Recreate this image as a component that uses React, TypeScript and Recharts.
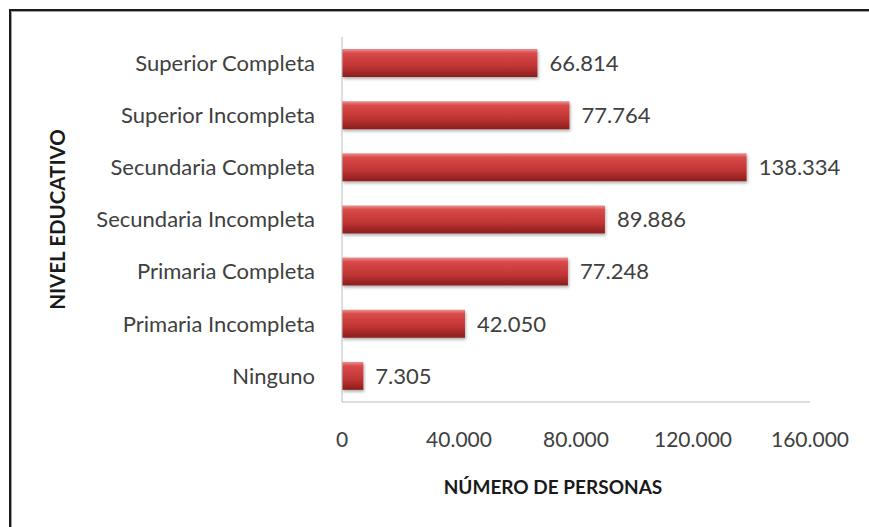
import React from "react";
import {
  BarChart,
  Bar,
  XAxis,
  YAxis,
  LabelList,
  Label,
} from "recharts";

const categories = [
  "Superior Completa",
  "Superior Incompleta",
  "Secundaria Completa",
  "Secundaria Incompleta",
  "Primaria Completa",
  "Primaria Incompleta",
  "Ninguno",
];
const personas = [66814, 77764, 138334, 89886, 77248, 42050, 7305];
const xTicks = [0, 40000, 80000, 120000, 160000];

const fmt = (v: number) => String(v).replace(/\B(?=(\d{3})+(?!\d))/g, ".");

const FONT = "Lato, 'Open Sans', sans-serif";
const TEXT = "#404040";

export default function App() {
  const data = categories.map((name, i) => ({ name, value: personas[i] }));

  return (
    <div
      style={{
        position: "absolute",
        left: 0,
        top: 0,
        width: 869,
        height: 527,
        background: "#fff",
        overflow: "hidden",
        fontFamily: FONT,
      }}
    >
      {/* frame: only top and left edges are visible in the source */}
      <div style={{ position: "absolute", left: 9, top: 9, width: 860, height: 2, background: "#1a1a1a" }} />
      <div style={{ position: "absolute", left: 9, top: 9, width: 2, height: 518, background: "#1a1a1a" }} />
      <div style={{ position: "absolute", left: 11, top: 11, width: 858, height: 1, background: "#a0a0a0" }} />
      <div style={{ position: "absolute", left: 11, top: 11, width: 1, height: 516, background: "#a0a0a0" }} />
      <div style={{ position: "absolute", left: 0, top: 0 }}>
        <BarChart
          width={869}
          height={527}
          data={data}
          layout="vertical"
          margin={{ top: 37, right: 59, bottom: 0, left: 0 }}
        >
          <defs>
            <linearGradient id="barRed" x1="0" y1="0" x2="0" y2="1">
              <stop offset="0%" stopColor="#ec9090" />
              <stop offset="15%" stopColor="#d94a4a" />
              <stop offset="60%" stopColor="#c23535" />
              <stop offset="100%" stopColor="#8a1e1e" />
            </linearGradient>
            <filter id="barShadow" x="-5%" y="-20%" width="115%" height="160%">
              <feDropShadow dx="1" dy="2" stdDeviation="1.5" floodColor="#000" floodOpacity="0.3" />
            </filter>
          </defs>
          <XAxis
            type="number"
            domain={[0, 160000]}
            ticks={xTicks}
            tickFormatter={fmt}
            axisLine={{ stroke: "#bdbdbd" }}
            tickLine={false}
            tickSize={0}
            tickMargin={30}
            height={125}
            tick={{ fontSize: 21, fill: TEXT, fontFamily: FONT }}
          >
            <Label
              value="NÚMERO DE PERSONAS"
              position="insideBottom"
              offset={33}
              dx={-23}
              style={{ fontSize: 19, fontWeight: 700, fill: "#1a1a1a", fontFamily: FONT }}
            />
          </XAxis>
          <YAxis
            type="category"
            dataKey="name"
            width={342}
            axisLine={{ stroke: "#bdbdbd" }}
            tickLine={false}
            tickSize={0}
            tickMargin={27}
            tick={{ fontSize: 22, fill: TEXT, fontFamily: FONT }}
          >
            <Label
              content={({ viewBox }: any) => {
                const cx = viewBox.x + 57;
                const cy = viewBox.y + viewBox.height / 2;
                return (
                  <text
                    x={cx}
                    y={cy}
                    transform={`rotate(-90 ${cx} ${cy})`}
                    textAnchor="middle"
                    dominantBaseline="central"
                    style={{ fontSize: 20.5, fontWeight: 700, fill: "#1a1a1a", fontFamily: FONT }}
                  >
                    NIVEL EDUCATIVO
                  </text>
                );
              }}
            />
          </YAxis>
          <Bar
            dataKey="value"
            fill="url(#barRed)"
            barSize={28}
            filter="url(#barShadow)"
            isAnimationActive={false}
          >
            <LabelList
              dataKey="value"
              position="right"
              offset={12}
              formatter={(v: any) => fmt(Number(v))}
              style={{ fontSize: 22, fill: TEXT, fontFamily: FONT }}
            />
          </Bar>
        </BarChart>
      </div>
    </div>
  );
}
